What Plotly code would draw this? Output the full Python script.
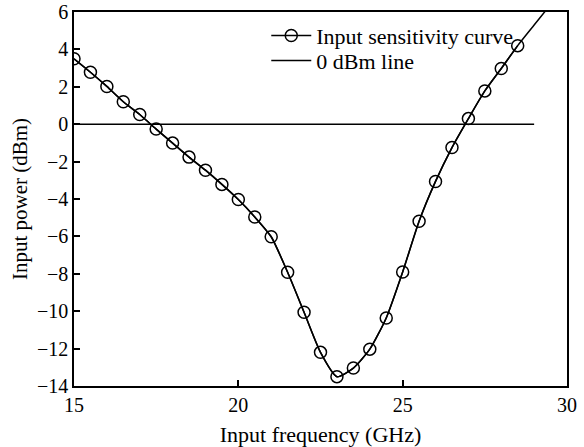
import plotly.graph_objects as go

freq = [15, 15.5, 16, 16.5, 17, 17.5, 18, 18.5, 19, 19.5, 20, 20.5, 21, 21.5,
        22, 22.5, 23, 23.5, 24, 24.5, 25, 25.5, 26, 26.5, 27, 27.5, 28, 28.5]
power = [3.5, 2.78, 2.02, 1.2, 0.52, -0.26, -1.01, -1.76, -2.46, -3.22, -4.03, -4.96,
         -6.02, -7.92, -10.06, -12.2, -13.5, -13.04, -12.03, -10.36, -7.9, -5.19,
         -3.06, -1.25, 0.3, 1.78, 2.98, 4.2]
# continuation of the curve beyond the last marker (runs off the top of the axes)
ext_freq = [28.5, 29.0, 29.5]
ext_power = [4.2, 5.3, 6.4]
zero_freq = [15, 29]
zero_power = [0, 0]

x_ticks = [15, 20, 25, 30]
y_ticks = [6, 4, 2, 0, -2, -4, -6, -8, -10, -12, -14]

FONT = "Liberation Serif, Times New Roman, serif"

fig = go.Figure()
fig.add_trace(go.Scatter(
    x=freq + ext_freq[1:], y=power + ext_power[1:], mode="lines",
    line=dict(color="black", width=1.5, shape="spline", smoothing=0.6),
    showlegend=False, hoverinfo="skip"))
fig.add_trace(go.Scatter(
    x=freq, y=power, mode="lines+markers", name="Input sensitivity curve",
    line=dict(color="black", width=1.5, shape="spline", smoothing=0.6),
    marker=dict(symbol="circle-open", size=12, color="black", line=dict(width=1.5)),
    legend="legend"))
fig.add_trace(go.Scatter(
    x=zero_freq, y=zero_power, mode="lines", name="0 dBm line",
    line=dict(color="black", width=1.5), legend="legend2"))

axis_common = dict(
    showgrid=False, zeroline=False, showline=True, linecolor="black", linewidth=1.5,
    mirror=True, ticks="inside", ticklen=6, tickwidth=1.5, tickcolor="black",
    automargin=False,
    tickfont=dict(family=FONT, size=20, color="black"))

fig.update_xaxes(range=[15, 30], tickvals=x_ticks,
                 title=dict(text="Input frequency (GHz)", font=dict(family=FONT, size=22, color="black"), standoff=14),
                 **axis_common)
fig.update_yaxes(range=[-14, 6], tickvals=y_ticks,
                 title=dict(text="Input power (dBm)", font=dict(family=FONT, size=21, color="black"), standoff=4),
                 **axis_common)

legend_common = dict(xanchor="left", yanchor="top", bgcolor="rgba(0,0,0,0)",
                     font=dict(family=FONT, size=22, color="black"), itemwidth=40)

fig.update_layout(
    width=584, height=447,
    margin=dict(l=74, r=17, t=12, b=61),
    paper_bgcolor="white", plot_bgcolor="white",
    font=dict(family=FONT, size=20, color="black"),
    legend=dict(x=0.39, y=0.993, **legend_common),
    legend2=dict(x=0.39, y=0.926, **legend_common),
)

fig.write_html("out.html")
